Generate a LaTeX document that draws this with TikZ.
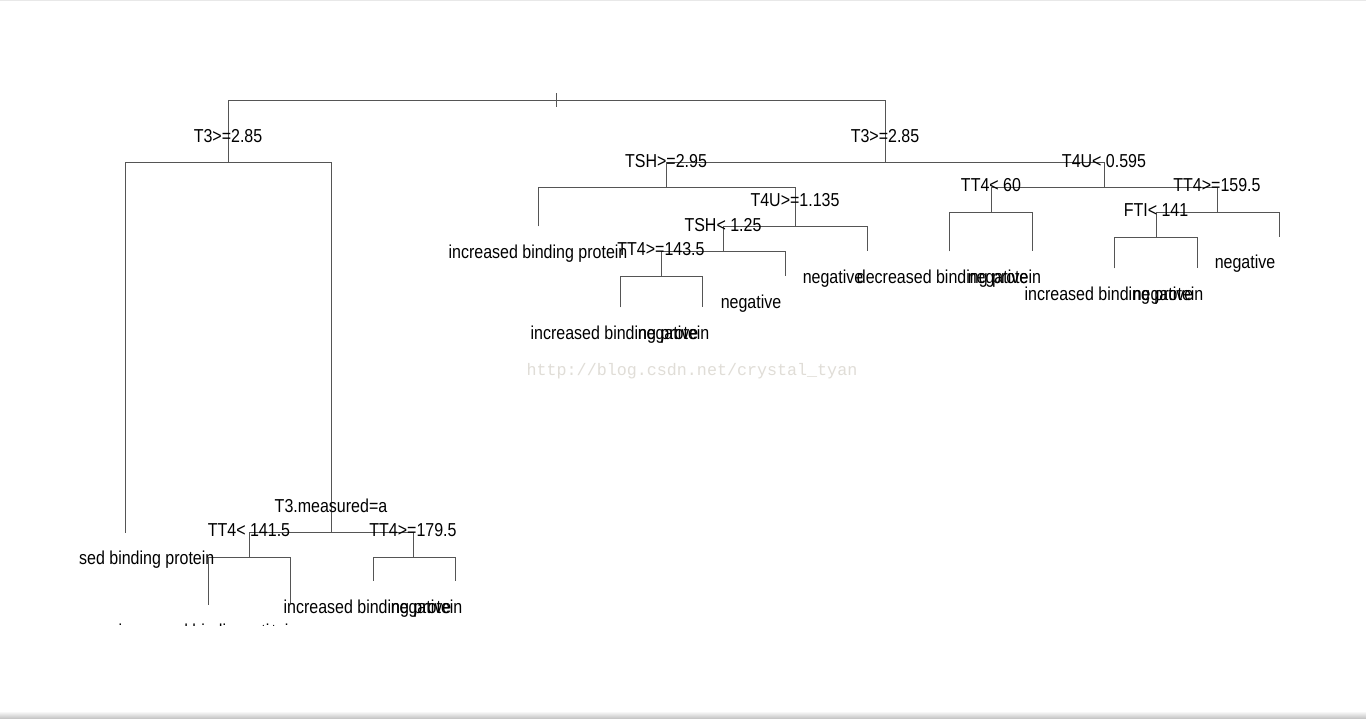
\documentclass[tikz,border=0pt]{standalone}
\usepackage{fontspec}
\setmainfont{Liberation Sans}
\newfontfamily\wmfont{Liberation Mono}
\newcommand\vs[1]{\scalebox{1}[1.17]{#1}}
\definecolor{wm}{RGB}{224,221,215}
\definecolor{br}{RGB}{85,85,85}
\begin{document}
\begin{tikzpicture}[x=1pt,y=-1pt,
  branch/.style={draw=br,line width=1pt},
  lbl/.style={anchor=base,inner sep=0pt,font=\fontsize{16}{16}\selectfont,text=black,yshift=-1pt},
  wmark/.style={anchor=base,inner sep=0pt,font=\wmfont\fontsize{16.7}{16.7}\selectfont,text=wm}]
\useasboundingbox (0,0) rectangle (1366,719);
\fill[white] (0,0) rectangle (1366,719);
\fill[black!9] (0,0) rectangle (1366,1.5);
\shade[top color=white,bottom color=black!25] (0,711) rectangle (1366,719);
% watermark
\node[wmark] (wm) at (692,376) {http://blog.csdn.net/crystal\_tyan};
\begin{scope}
\clip (79,0) rectangle (1366,625);
% tree coordinates (pixel centred)
\begin{scope}[shift={(0.5,0.5)}]
\coordinate (root) at (556,100);
\coordinate (L1) at (228,162);
\coordinate (R1) at (885,162);
\coordinate (lf1) at (125,532);
\coordinate (L2) at (331,532);
\coordinate (L3) at (249,557);
\coordinate (L4) at (413,557);
\coordinate (lf2) at (208,604);
\coordinate (lf3) at (290,603);
\coordinate (lf4) at (373,580);
\coordinate (lf5) at (455,580);
\coordinate (R2) at (666,187);
\coordinate (R3) at (1104,187);
\coordinate (lf6) at (538,226);
\coordinate (R4) at (795,226);
\coordinate (R5) at (723,251);
\coordinate (lf7) at (867,251);
\coordinate (R6) at (661,276);
\coordinate (lf8) at (785,276);
\coordinate (lf9) at (620,307);
\coordinate (lf10) at (702,307);
\coordinate (R7) at (991,212);
\coordinate (R8) at (1217,212);
\coordinate (lf11) at (949,251);
\coordinate (lf12) at (1032,251);
\coordinate (R9) at (1156,237);
\coordinate (lf13) at (1279,237);
\coordinate (lf14) at (1114,268);
\coordinate (lf15) at (1197,268);
\coordinate (rt1) at (556,93);
\coordinate (rt2) at (556,107);
\end{scope}
% branches
\draw[branch] (L1) |- (root) -| (R1);
\draw[branch] (rt1) -- (rt2);
\draw[branch] (lf1) |- (L1) -| (L2);
\draw[branch] (L3) |- (L2) -| (L4);
\draw[branch] (lf2) |- (L3) -| (lf3);
\draw[branch] (lf4) |- (L4) -| (lf5);
\draw[branch] (R2) |- (R1) -| (R3);
\draw[branch] (lf6) |- (R2) -| (R4);
\draw[branch] (R5) |- (R4) -| (lf7);
\draw[branch] (R6) |- (R5) -| (lf8);
\draw[branch] (lf9) |- (R6) -| (lf10);
\draw[branch] (R7) |- (R3) -| (R8);
\draw[branch] (lf11) |- (R7) -| (lf12);
\draw[branch] (R9) |- (R8) -| (lf13);
\draw[branch] (lf14) |- (R9) -| (lf15);
% split labels
\node[lbl] (s1) at (228,141.5) {\vs{T3>=2.85}};
\node[lbl] (s2) at (885,141.5) {\vs{T3>=2.85}};
\node[lbl] (s3) at (331,511.5) {\vs{T3.measured=a}};
\node[lbl] (s4) at (249,535.5) {\vs{TT4< 141.5}};
\node[lbl] (s5) at (413,535.5) {\vs{TT4>=179.5}};
\node[lbl] (s6) at (666,166.5) {\vs{TSH>=2.95}};
\node[lbl] (s7) at (1104,166.5) {\vs{T4U< 0.595}};
\node[lbl] (s8) at (795,205.5) {\vs{T4U>=1.135}};
\node[lbl] (s9) at (723,230.5) {\vs{TSH< 1.25}};
\node[lbl] (s10) at (661,254.5) {\vs{TT4>=143.5}};
\node[lbl] (s11) at (991,190.5) {\vs{TT4< 60}};
\node[lbl] (s12) at (1217,190.5) {\vs{TT4>=159.5}};
\node[lbl] (s13) at (1156,215.5) {\vs{FTI< 141}};
% leaf labels
\node[lbl] (t1) at (125,563) {\vs{increased binding protein}};
\node[lbl] (t2) at (208,636) {\vs{increased binding protein}};
\node[lbl] (t3) at (256,636) {\vs{negative}};
\node[lbl] (t4) at (373,612) {\vs{increased binding protein}};
\node[lbl] (t5) at (421,612) {\vs{negative}};
\node[lbl] (t6) at (538,258) {\vs{increased binding protein}};
\node[lbl] (t7) at (620,339) {\vs{increased binding protein}};
\node[lbl] (t8) at (668,339) {\vs{negative}};
\node[lbl] (t9) at (751,308) {\vs{negative}};
\node[lbl] (t10) at (833,283) {\vs{negative}};
\node[lbl] (t11) at (949,283) {\vs{decreased binding protein}};
\node[lbl] (t12) at (998,283) {\vs{negative}};
\node[lbl] (t13) at (1114,300) {\vs{increased binding protein}};
\node[lbl] (t14) at (1163,300) {\vs{negative}};
\node[lbl] (t15) at (1245,268) {\vs{negative}};
\end{scope}
\end{tikzpicture}
\end{document}
